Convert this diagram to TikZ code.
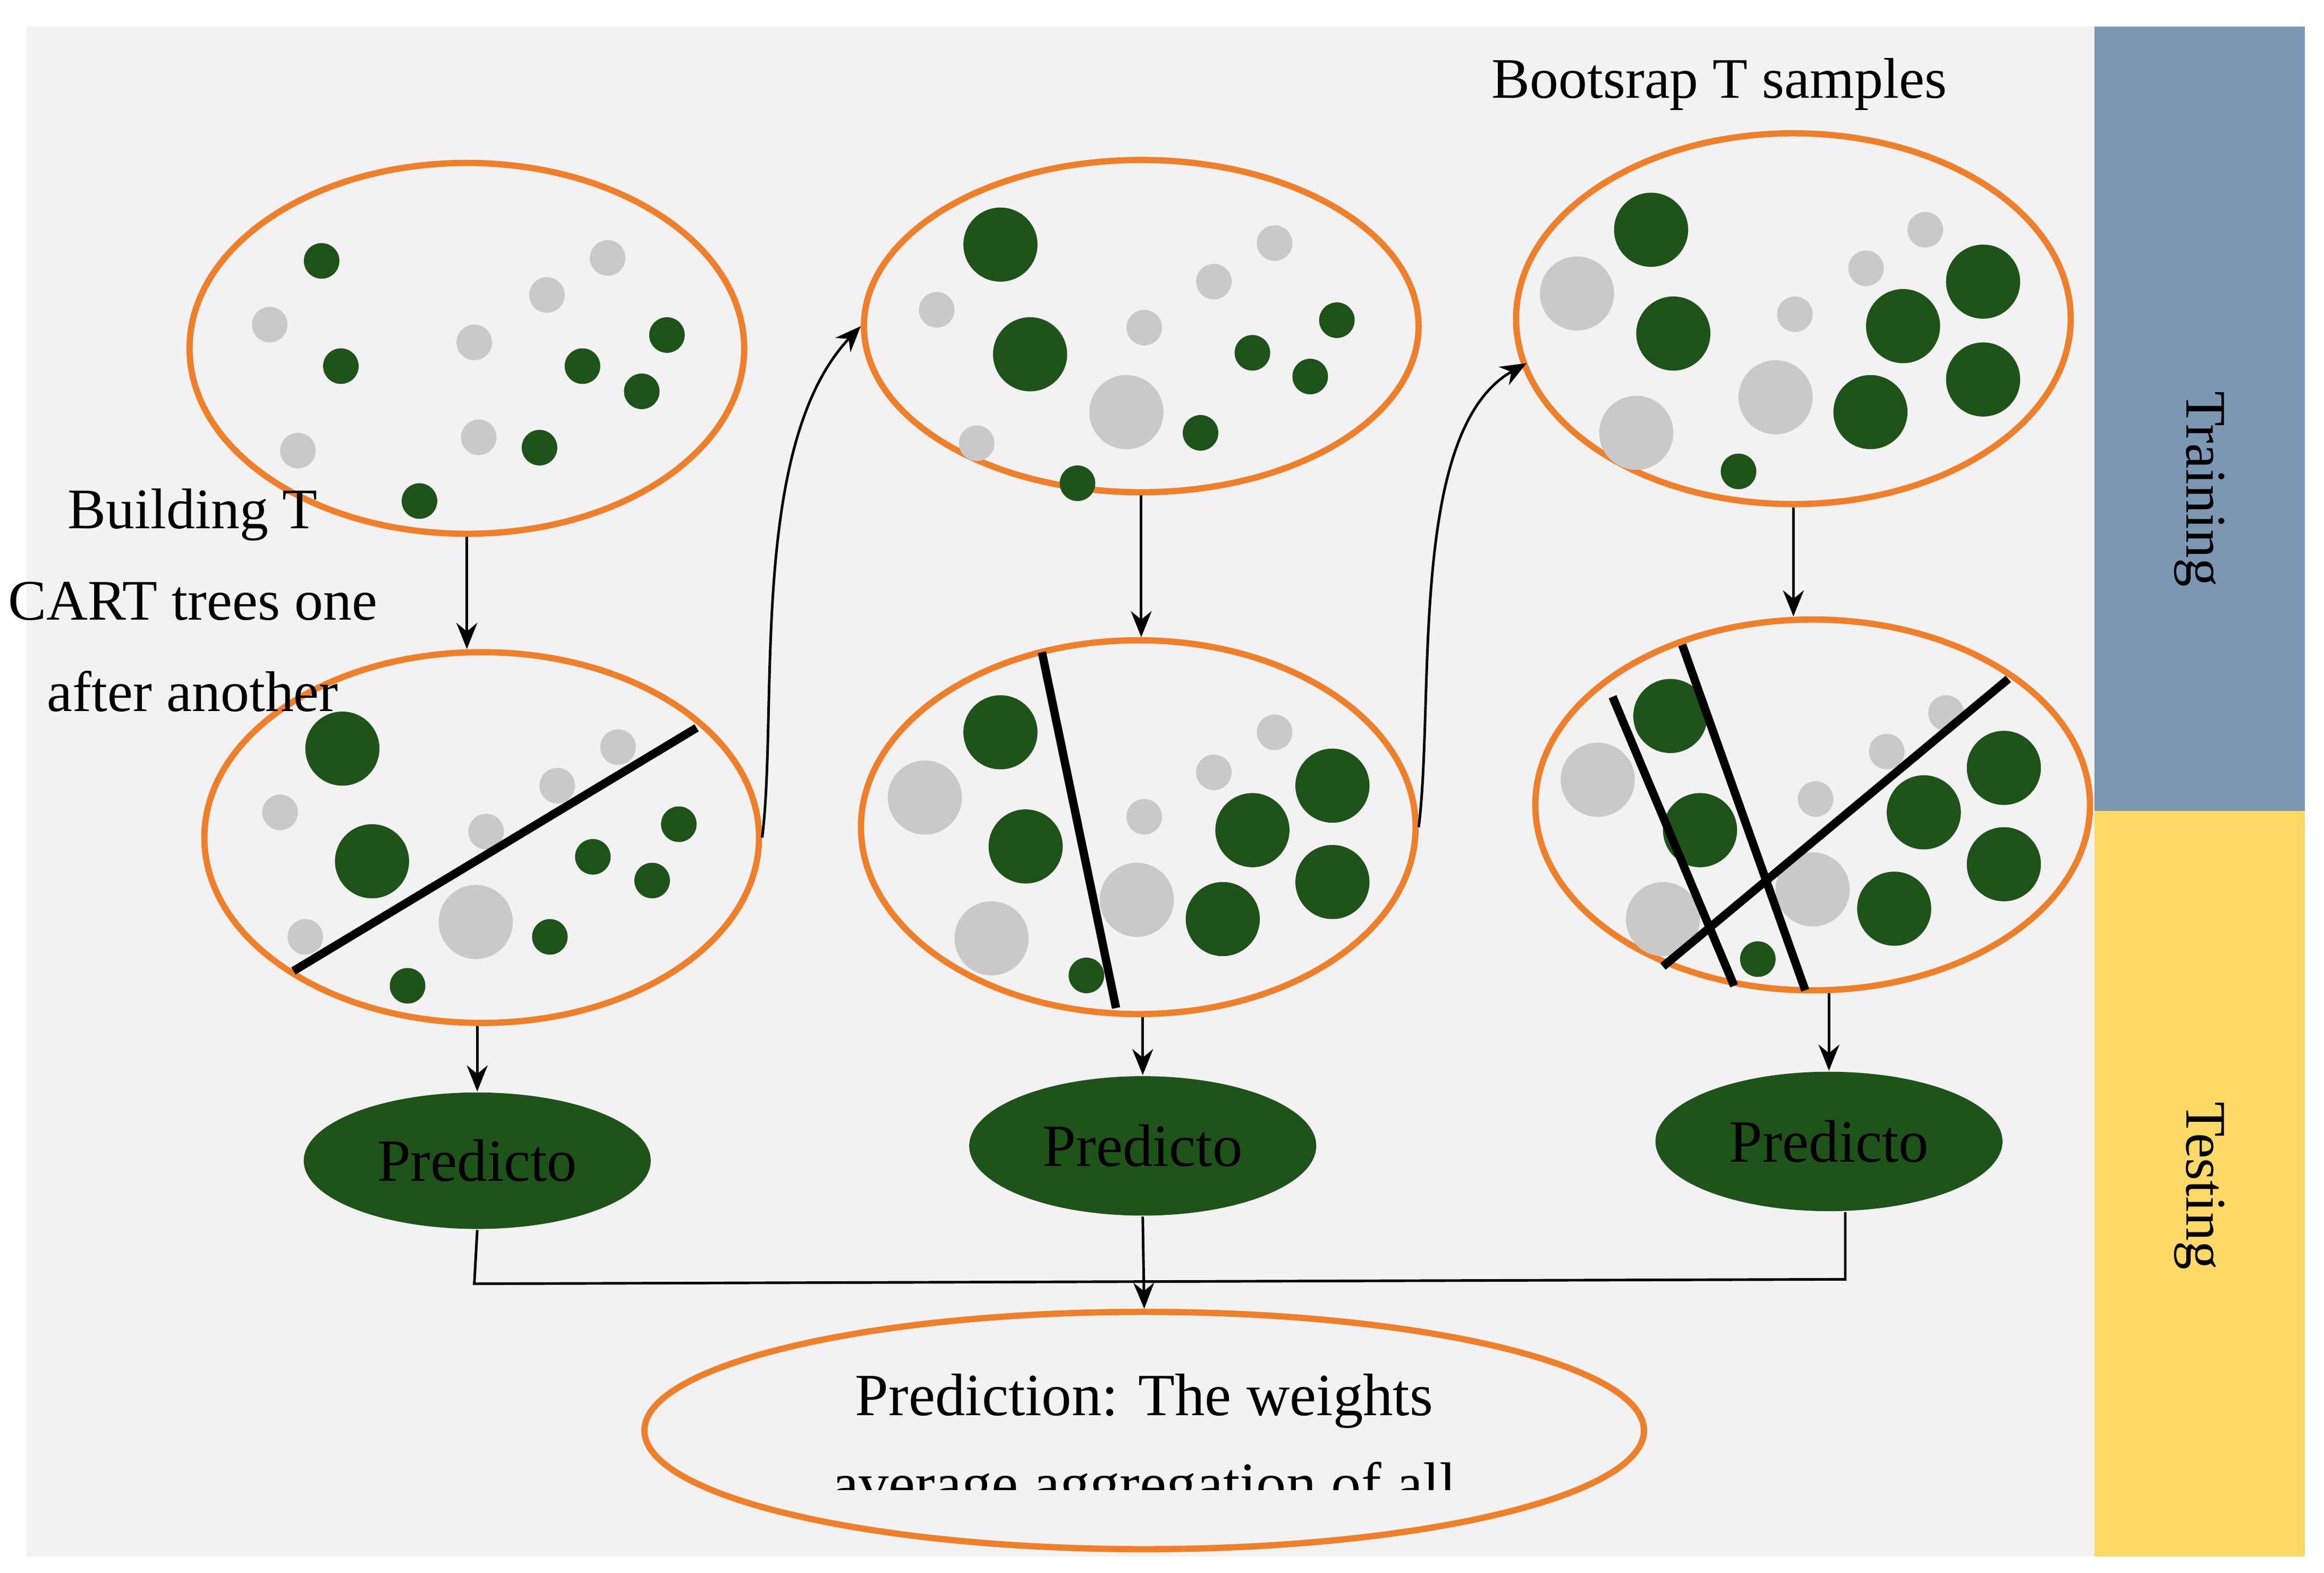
\documentclass[tikz,border=0pt]{standalone}
\usepackage{fontspec}
\setmainfont{Liberation Serif}
\usetikzlibrary{shapes.geometric,arrows.meta}
\definecolor{bgray}{HTML}{F2F2F2}
\definecolor{dgreen}{HTML}{1E5319}
\definecolor{lgray}{HTML}{C9C9C9}
\definecolor{orng}{HTML}{F07F2A}
\definecolor{trainc}{HTML}{7C97B1}
\definecolor{testc}{HTML}{FFD966}
\tikzset{
  bag/.style={ellipse, draw=orng, line width=1.2pt, minimum width=3.74cm, minimum height=2.5cm, inner sep=0pt},
  pred/.style={ellipse, fill=dgreen, minimum width=2.34cm, minimum height=0.92cm, font=\fontsize{11.5}{13}\selectfont},
  arr/.style={-{Stealth[length=5pt,width=4pt]}, line width=0.5pt},
  split/.style={line width=1.6pt},
}
\begin{document}
\begin{tikzpicture}[x=0.01cm,y=-0.01cm]
  \useasboundingbox (0,0) rectangle (1568,1061);
  % background and side bars
  \fill[bgray] (18,18) rectangle (1413,1050);
  \fill[trainc] (1413,18) rectangle (1555,547);
  \fill[testc] (1413,547) rectangle (1555,1050);
  \node[rotate=-90, font=\fontsize{11}{13}\selectfont] (train) at (1484,330) {Training};
  \node[rotate=-90, font=\fontsize{11}{13}\selectfont] (test) at (1484,800) {Testing};

  % bootstrap samples
  \node[bag] (s1) at (315,235) {};
  \node[bag, minimum height=2.24cm] (s2) at (770,220) {};
  \node[bag] (s3) at (1210,215) {};
  % trees
  \node[bag] (t1) at (325,565) {};
  \node[bag, minimum height=2.52cm] (t2) at (768,558) {};
  \node[bag] (t3) at (1223,543) {};

  % dots
  \foreach \x/\y/\r in {217/176/12,230/247/12,450/226/12,393/247/12,433/264/12,364/302/12,283/338/12,
    675/165/25,695/239/25,902/216/12,845/238/12,884/254/12,810/292/12,727/326/12,
    1114/155/25,1129/225/25,1338/190/25,1284/220/25,1338/256/25,1262/278/25,1173/318/12,
    231/505/25,251/581/25,458/556/12,400/578/12,440/594/12,371/632/12,275/665/12,
    675/494/25,692/571/25,899/530/25,845/560/25,899/595/25,825/620/25,733/658/12,
    1127/483/25,1147/560/25,1352/518/25,1298/548/25,1352/583/25,1278/613/25,1186/647/12}
    \fill[dgreen] (\x,\y) circle (\r);
  \foreach \x/\y/\r in {182/219/12,410/174/12,369/199/12,320/231/12,201/304/12,323/295/12,
    632/209/12,860/164/12,819/190/12,772/221/12,760/278/25,659/299/12,
    1064/198/25,1299/155/12,1259/181/12,1211/212/12,1198/268/25,1104/292/25,
    189/548/12,417/504/12,376/530/12,328/561/12,321/622/25,206/632/12,
    624/538/25,860/494/12,819/521/12,772/551/12,767/607/25,669/633/25,
    1078/526/25,1313/481/12,1273/507/12,1225/539/12,1223/600/25,1122/620/25}
    \fill[lgray] (\x,\y) circle (\r);

  % splits
  \draw[split] (198,655) -- (470,491);
  \draw[split] (703,440) -- (753,680);
  \draw[split] (1088,470) -- (1170,665);
  \draw[split] (1135,435) -- (1218,668);
  \draw[split] (1355,458) -- (1122,652);

  % predictors
  \node[pred] (p1) at (322,783) {Predicto};
  \node[pred, minimum height=0.94cm] (p2) at (771,773) {Predicto};
  \node[pred, minimum height=0.94cm] (p3) at (1234,770) {Predicto};

  % aggregation
  \node[bag, minimum width=6.74cm, minimum height=1.6cm] (agg) at (772,965) {};
  \begin{scope}
    \clip (400,900) rectangle (1150,1005);
    \node[align=center, font=\fontsize{11.5}{17}\selectfont] (aggtxt) at (772,975)
      {Prediction: The weights\\average aggregation of all};
  \end{scope}

  % labels
  \node[font=\fontsize{11}{13}\selectfont] (boot) at (1160,57) {Bootsrap T samples};
  \node[align=center, font=\fontsize{11}{17.5}\selectfont] (build) at (130,405)
    {Building T\\CART trees one\\after another};

  % arrows
  \draw[arr] (s1.south) -- (s1.south |- t1.north);
  \draw[arr] (s2.south) -- (s2.south |- t2.north);
  \draw[arr] (s3.south) -- (s3.south |- t3.north);
  \draw[arr] (p1.north |- t1.south) -- (p1.north);
  \draw[arr] (p2.north |- t2.south) -- (p2.north);
  \draw[arr] (p3.north |- t3.south) -- (p3.north);
  \draw[arr] (t1.east) .. controls (525,480) and (505,300) .. (s2.west);
  \draw[arr] (t2.east) .. controls (968,470) and (950,290) .. (1030,245);
  \coordinate (j1) at (320,866);
  \coordinate (j3) at (1245,863);
  \draw[line width=0.5pt] (p1.south) -- (j1) -- (j3) -- (p3.south -| j3);
  \draw[arr] (p2.south) -- (agg.north);
\end{tikzpicture}
\end{document}
